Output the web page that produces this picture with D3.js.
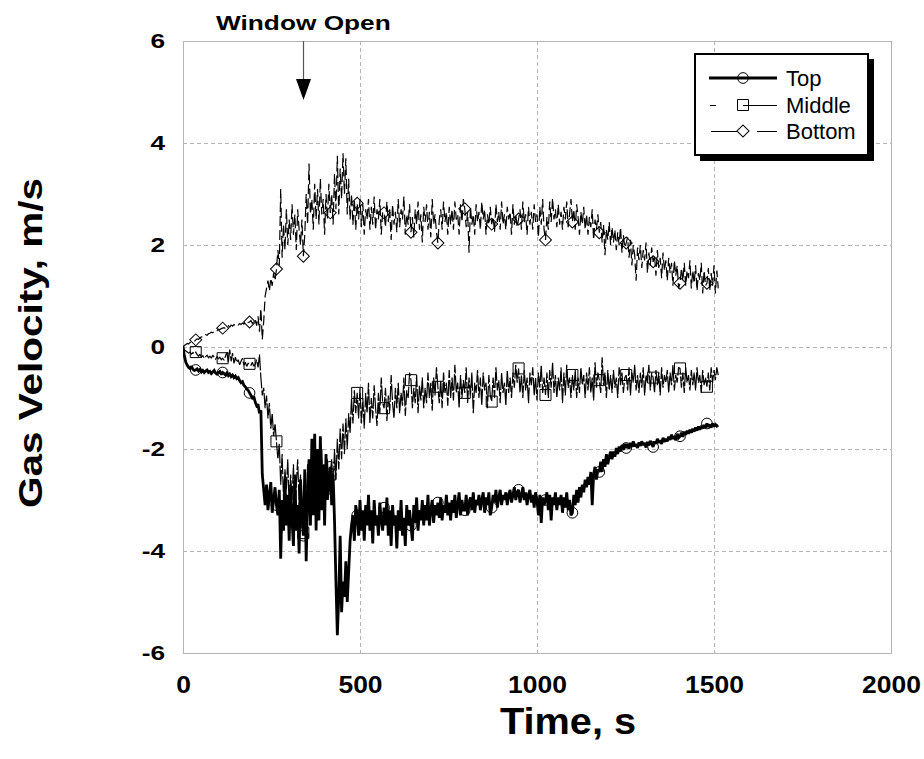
<!DOCTYPE html>
<html>
<head>
<meta charset="utf-8">
<script src="https://cdn.jsdelivr.net/npm/d3@7/dist/d3.min.js"></script>
<style>
  body { margin: 0; background: #fff; }
  text { font-family: "Liberation Sans", Arial, sans-serif; }
</style>
</head>
<body>
<svg id="chart" width="924" height="759"></svg>
<script>
// Gas velocity at three heights in the doorway, sampled every 4 s.
const sampleStep = 4;

// Top probe (m/s)
const topVelocity = [
  0, -0.18, -0.3, -0.36, -0.4, -0.42, -0.38, -0.44, -0.46, -0.45, -0.43, -0.47, -0.44, -0.49, -0.46, -0.5, -0.47, -0.45, -0.5,
  -0.48, -0.52, -0.49, -0.46, -0.51, -0.53, -0.5, -0.48, -0.54, -0.5, -0.52, -0.55, -0.51, -0.56, -0.53, -0.58, -0.55, -0.6, -0.57,
  -0.62, -0.6, -0.66, -0.7, -0.68, -0.75, -0.78, -0.82, -0.85, -0.9, -0.95, -1.0, -0.97, -1.08, -1.15, -1.12, -1.3, -1.24, -2.5,
  -2.8, -3.1, -2.7, -3.2, -2.9, -2.65, -3.25, -3.0, -2.75, -3.1, -3.3, -2.8, -4.15, -3.0, -3.6, -2.6, -3.5, -2.9, -3.8,
  -2.7, -3.4, -3.9, -2.5, -3.6, -3.1, -4.05, -2.6, -3.3, -3.7, -2.4, -4.2, -3.0, -2.2, -3.5, -1.8, -3.3, -1.7, -3.6,
  -2.0, -3.4, -1.75, -3.2, -2.3, -3.5, -2.1, -3.0, -2.6, -2.35, -3.1, -2.5, -3.4, -4.6, -5.65, -4.9, -3.7, -5.2, -4.6,
  -4.9, -4.2, -5.0, -4.4, -3.8, -3.5, -3.3, -3.8, -3.1, -3.3, -3.7, -3.0, -3.6, -3.2, -3.8, -3.1, -3.5, -2.9, -3.6,
  -3.2, -3.85, -3.0, -3.5, -3.3, -3.7, -3.05, -3.4, -3.6, -3.15, -3.5, -2.95, -3.7, -3.2, -3.9, -3.1, -3.5, -3.3, -3.95,
  -3.2, -3.6, -3.0, -3.7, -3.35, -3.9, -3.1, -3.5, -3.2, -3.5, -3.8, -3.1, -3.45, -2.95, -3.6, -3.2, -3.4, -3.0, -3.5,
  -3.1, -3.4, -2.9, -3.5, -3.2, -3.0, -3.45, -3.1, -3.3, -3.05, -3.35, -2.95, -3.4, -3.1, -3.25, -2.9, -3.3, -3.05, -3.4,
  -3.0, -3.25, -2.9, -3.35, -3.1, -2.85, -3.3, -3.0, -3.2, -3.2, -2.9, -3.3, -3.05, -2.95, -3.2, -2.85, -3.25, -3.0, -3.1,
  -2.9, -3.2, -3.0, -2.85, -3.25, -2.95, -3.1, -2.85, -3.3, -3.15, -2.9, -3.05, -2.8, -3.15, -2.95, -2.8, -3.1, -2.9, -3.0,
  -2.85, -3.1, -2.9, -2.8, -3.05, -2.9, -2.75, -3.0, -2.85, -2.8, -3.05, -2.9, -2.75, -3.0, -2.85, -3.1, -2.9, -2.8, -3.05,
  -2.9, -3.15, -2.85, -3.0, -3.3, -2.9, -3.45, -2.95, -3.1, -3.0, -2.85, -3.2, -2.9, -3.4, -2.95, -3.1, -2.85, -3.2, -2.95,
  -3.1, -2.9, -3.25, -2.95, -3.15, -2.85, -3.2, -3.0, -3.3, -3.25, -2.9, -3.1, -2.8, -3.05, -2.75, -2.95, -2.7, -2.85, -2.6,
  -2.75, -2.55, -2.7, -2.45, -3.1, -2.5, -2.35, -2.6, -2.4, -2.45, -2.25, -2.45, -2.2, -2.35, -2.1, -2.3, -2.15, -2.05, -2.2,
  -2.05, -2.15, -1.98, -2.1, -1.95, -2.05, -1.92, -2.02, -1.9, -1.98, -1.9, -2.0, -1.88, -1.96, -1.85, -1.95, -1.9, -1.98, -1.87,
  -1.94, -1.85, -1.92, -1.88, -1.97, -1.86, -1.93, -1.84, -1.9, -1.96, -1.85, -1.9, -1.8, -1.88, -1.83, -1.9, -1.78, -1.86, -1.8,
  -1.85, -1.76, -1.82, -1.72, -1.8, -1.75, -1.83, -1.7, -1.78, -1.75, -1.68, -1.76, -1.66, -1.72, -1.64, -1.7, -1.62, -1.68, -1.6,
  -1.66, -1.58, -1.64, -1.56, -1.62, -1.55, -1.6, -1.53, -1.58, -1.5, -1.57, -1.52, -1.58, -1.5, -1.56, -1.52, -1.55, -1.53
];

// Middle probe (m/s)
const middleVelocity = [
  0, -0.05, -0.08, -0.1, -0.12, -0.1, -0.14, -0.11, -0.13, -0.1, -0.15, -0.18, -0.14, -0.2, -0.17, -0.22, -0.19, -0.16, -0.21,
  -0.18, -0.22, -0.16, -0.2, -0.24, -0.19, -0.23, -0.2, -0.25, -0.22, -0.26, -0.18, -0.1, -0.3, -0.05, -0.28, -0.12, -0.32, -0.2,
  -0.3, -0.25, -0.35, -0.28, -0.22, -0.36, -0.3, -0.38, -0.32, -0.33, -0.36, -0.3, -0.38, -0.34, -0.25, -0.4, -0.15, -0.6, -0.95,
  -0.8, -1.2, -0.95, -1.4, -1.1, -1.6, -1.3, -1.75, -1.5, -1.85, -2.2, -1.9, -2.7, -2.1, -3.0, -2.4, -2.8, -2.2, -3.2,
  -2.5, -3.0, -2.3, -3.4, -2.7, -2.2, -3.1, -2.5, -3.5, -3.65, -2.6, -3.2, -2.3, -3.0, -2.5, -3.3, -2.1, -2.9, -2.4,
  -3.1, -2.3, -2.8, -2.0, -3.0, -2.4, -2.7, -2.2, -2.9, -2.5, -2.2, -2.8, -2.0, -2.6, -1.8, -2.4, -1.6, -2.2, -1.5,
  -2.1, -1.4, -2.0, -1.3, -1.7, -1.0, -1.5, -0.85, -1.3, -0.9, -1.4, -0.8, -1.5, -1.0, -1.6, -0.9, -1.3, -0.7, -1.5,
  -1.0, -1.4, -0.75, -1.2, -1.55, -0.9, -1.3, -0.6, -1.1, -1.2, -0.8, -1.45, -0.95, -1.25, -0.55, -1.1, -1.4, -0.8, -1.2,
  -0.7, -1.3, -0.9, -1.15, -0.6, -1.35, -0.85, -1.0, -0.5, -0.65, -1.2, -0.8, -1.1, -0.55, -1.3, -0.75, -1.05, -0.6, -1.2,
  -0.8, -1.1, -0.5, -1.0, -0.7, -1.25, -0.6, -0.95, -0.4, -0.78, -1.1, -0.65, -1.2, -0.5, -0.9, -0.7, -1.15, -0.45, -1.0,
  -0.6, -1.05, -0.35, -0.9, -0.7, -1.2, -0.55, -1.0, -0.65, -0.9, -0.4, -1.1, -0.6, -0.95, -0.5, -1.3, -0.7, -0.9, -0.45,
  -1.0, -0.6, -1.15, -0.5, -0.85, -0.7, -1.2, -0.55, -0.95, -1.07, -0.6, -1.0, -0.4, -0.85, -0.65, -1.1, -0.5, -0.9, -0.7,
  -1.15, -0.45, -0.9, -0.6, -1.0, -0.5, -0.8, -0.35, -0.7, -0.42, -0.9, -0.55, -1.0, -0.45, -0.85, -0.6, -1.1, -0.5, -0.75,
  -0.4, -0.95, -0.6, -1.05, -0.5, -0.8, -0.35, -0.9, -0.6, -0.94, -0.5, -1.0, -0.45, -0.8, -0.3, -0.9, -0.55, -1.0, -0.6,
  -0.85, -0.4, -1.1, -0.5, -0.95, -0.35, -0.8, -0.6, -1.0, -0.55, -0.85, -0.45, -1.0, -0.6, -0.9, -0.4, -0.75, -0.55, -1.0,
  -0.5, -0.85, -0.4, -0.9, -0.6, -1.05, -0.3, -0.8, -0.5, -0.65, -0.9, -0.2, -0.75, -0.5, -1.0, -0.45, -0.85, -0.55, -0.9,
  -0.45, -0.8, -0.6, -1.0, -0.4, -0.75, -0.5, -0.9, -0.6, -0.55, -0.85, -0.4, -0.95, -0.5, -0.7, -0.35, -0.85, -0.55, -0.9,
  -0.5, -0.8, -0.4, -0.95, -0.55, -0.7, -0.35, -0.85, -0.5, -0.6, -0.9, -0.45, -0.75, -0.5, -0.95, -0.4, -0.8, -0.55, -0.7,
  -0.45, -0.9, -0.5, -0.75, -0.35, -0.85, -0.55, -0.7, -0.4, -0.42, -0.8, -0.5, -0.9, -0.4, -0.7, -0.55, -0.85, -0.45, -0.75,
  -0.5, -0.85, -0.4, -0.7, -0.55, -0.9, -0.45, -0.75, -0.6, -0.78, -0.5, -0.85, -0.4, -0.7, -0.45, -0.65, -0.4, -0.55
];

// Bottom probe (m/s)
const bottomVelocity = [
  0, 0.03, 0.05, 0.07, 0.06, 0.09, 0.1, 0.12, 0.11, 0.14, 0.16, 0.15, 0.18, 0.2, 0.19, 0.22, 0.24, 0.23, 0.26,
  0.27, 0.29, 0.28, 0.31, 0.33, 0.32, 0.35, 0.34, 0.36, 0.37, 0.38, 0.36, 0.4, 0.42, 0.39, 0.43, 0.41, 0.44, 0.42,
  0.45, 0.43, 0.46, 0.44, 0.47, 0.45, 0.5, 0.47, 0.48, 0.49, 0.52, 0.46, 0.5, 0.55, 0.42, 0.6, 0.3, 0.75, 0.15,
  0.5, 1.0, 1.15, 1.3, 1.1, 1.35, 1.2, 1.45, 1.3, 1.53, 1.9, 1.6, 3.1, 1.75, 2.4, 1.9, 2.7, 2.0, 2.5,
  2.1, 2.8, 2.2, 2.6, 1.9, 2.7, 2.3, 2.0, 2.5, 1.78, 2.2, 3.0, 2.4, 3.6, 2.6, 2.9, 2.3, 3.2, 2.5,
  3.1, 2.4, 3.3, 2.6, 2.9, 2.2, 3.0, 2.5, 3.2, 2.63, 3.0, 2.4, 3.4, 2.7, 3.75, 2.6, 3.5, 2.9, 3.8,
  3.0, 3.7, 2.6, 3.3, 2.5, 3.0, 2.4, 2.9, 2.3, 2.82, 2.5, 2.9, 2.35, 2.8, 2.2, 2.7, 2.5, 2.9, 2.3,
  2.75, 2.4, 2.95, 2.3, 2.7, 2.5, 2.9, 2.2, 2.65, 2.63, 2.35, 2.85, 2.45, 2.7, 2.1, 2.8, 2.4, 2.65, 2.25,
  2.9, 2.35, 2.7, 2.5, 2.95, 2.2, 2.6, 2.4, 2.8, 2.25, 2.55, 2.15, 2.7, 2.4, 2.85, 2.3, 2.6, 2.05, 2.75,
  2.45, 2.8, 2.3, 2.65, 2.15, 2.9, 2.4, 2.6, 2.25, 2.04, 2.5, 2.7, 2.3, 2.85, 2.45, 2.65, 2.2, 2.75, 2.4,
  2.7, 2.3, 2.85, 2.5, 2.6, 2.2, 2.8, 2.45, 2.9, 2.71, 2.35, 2.65, 1.85, 2.75, 2.4, 2.6, 2.2, 2.8, 2.45,
  2.65, 2.3, 2.85, 2.5, 2.7, 2.2, 2.6, 2.4, 2.75, 2.41, 2.55, 2.25, 2.8, 2.45, 2.65, 2.3, 2.85, 2.4, 2.6,
  2.3, 2.75, 2.5, 2.65, 2.2, 2.8, 2.4, 2.6, 2.35, 2.51, 2.7, 2.3, 2.85, 2.45, 2.6, 2.2, 2.75, 2.4, 2.65,
  2.3, 2.8, 2.45, 2.6, 2.15, 2.75, 2.4, 2.9, 2.3, 2.1, 2.55, 2.3, 2.85, 2.45, 2.92, 2.5, 2.7, 2.35, 2.8,
  2.4, 2.65, 2.3, 2.75, 2.5, 2.85, 2.35, 2.6, 2.9, 2.45, 2.7, 2.3, 2.8, 2.55, 2.2, 2.65, 2.4, 2.75, 2.3,
  2.6, 2.2, 2.55, 2.35, 2.7, 2.1, 2.5, 2.3, 2.6, 2.24, 2.45, 2.05, 2.4, 1.8, 2.3, 2.1, 2.45, 2.0, 2.35,
  2.05, 2.3, 1.9, 2.25, 2.0, 2.35, 1.85, 2.2, 1.95, 2.04, 2.15, 1.75, 2.1, 1.6, 2.0, 1.8, 1.3, 1.95, 1.7,
  2.0, 1.55, 1.9, 1.7, 2.05, 1.45, 1.85, 1.6, 1.95, 1.67, 1.8, 1.4, 1.9, 1.55, 1.75, 1.35, 1.85, 1.5, 1.7,
  1.3, 1.75, 1.45, 1.65, 1.2, 1.7, 1.4, 1.6, 1.15, 1.25, 1.55, 1.3, 1.65, 1.2, 1.5, 1.35, 1.7, 1.15, 1.5,
  1.25, 1.6, 1.1, 1.45, 1.3, 1.65, 1.05, 1.5, 1.2, 1.25, 1.55, 1.1, 1.45, 1.2, 1.6, 1.05, 1.5, 1.15
];

const seriesNames = ["Top", "Middle", "Bottom"];
const xTickValues = [0, 500, 1000, 1500, 2000];
const yTickValues = [-6, -4, -2, 0, 2, 4, 6];
const windowOpenTime = 340;          // s, annotated event
const markerEvery = 19;              // one marker every 76 s
const markerOffset = 9;

const svg = d3.select("#chart");
const plot = { left: 183, right: 891, top: 41, bottom: 653 };
const stretch = 1.25;                // wide bold lettering of the tick labels

const x = d3.scaleLinear().domain([0, 2000]).range([plot.left, plot.right]);
const y = d3.scaleLinear().domain([-6, 6]).range([plot.bottom, plot.top]);

// grid
const grid = svg.append("g").attr("stroke", "#b4b4b4").attr("stroke-width", 1)
  .attr("stroke-dasharray", "4,3").attr("fill", "none");
grid.selectAll("line.h").data(yTickValues.slice(1, -1)).join("line")
  .attr("x1", plot.left).attr("x2", plot.right)
  .attr("y1", d => Math.round(y(d)) + 0.5).attr("y2", d => Math.round(y(d)) + 0.5);
grid.selectAll("line.v").data(xTickValues.slice(1, -1)).join("line")
  .attr("y1", plot.top).attr("y2", plot.bottom)
  .attr("x1", d => Math.round(x(d)) + 0.5).attr("x2", d => Math.round(x(d)) + 0.5);
svg.append("rect")
  .attr("x", plot.left + 0.5).attr("y", plot.top + 0.5)
  .attr("width", plot.right - plot.left).attr("height", plot.bottom - plot.top)
  .attr("fill", "none").attr("stroke", "#b4b4b4");

// axes (labels only)
const plainNumber = d => String(d);
function styleTicks(g, size) {
  g.select(".domain").remove();
  g.selectAll(".tick line").remove();
  g.selectAll(".tick text")
    .attr("font-size", size).attr("font-weight", "bold").attr("fill", "#000")
    .attr("font-family", "'Liberation Sans', Arial, sans-serif");
}
const yAxis = svg.append("g").attr("transform", `translate(${plot.left},0)`)
  .call(d3.axisLeft(y).tickValues(yTickValues).tickSize(0).tickPadding(18).tickFormat(plainNumber));
styleTicks(yAxis, 21);
yAxis.selectAll(".tick text")
  .attr("x", -18 / stretch).attr("transform", `scale(${stretch},1)`);

const xAxis = svg.append("g").attr("transform", `translate(0,${plot.bottom})`)
  .call(d3.axisBottom(x).tickValues(xTickValues).tickSize(0).tickPadding(24).tickFormat(plainNumber));
styleTicks(xAxis, 23);
xAxis.selectAll(".tick text").attr("transform", `scale(${stretch * 0.92},1)`);

// axis titles
svg.append("text")
  .attr("x", 568).attr("y", 734)
  .attr("text-anchor", "middle").attr("font-size", 36).attr("font-weight", "bold")
  .attr("textLength", 136).attr("lengthAdjust", "spacingAndGlyphs")
  .text("Time, s");
svg.append("text")
  .attr("transform", "translate(42,343) rotate(-90)")
  .attr("text-anchor", "middle").attr("font-size", 34).attr("font-weight", "bold")
  .attr("textLength", 330).attr("lengthAdjust", "spacingAndGlyphs")
  .text("Gas Velocity, m/s");

// series
const times = d3.range(topVelocity.length).map(i => i * sampleStep);
const series = [
  { name: seriesNames[0], values: topVelocity, width: 2.8, dash: null, marker: "circle" },
  { name: seriesNames[1], values: middleVelocity, width: 1.2, dash: "16,2", marker: "square" },
  { name: seriesNames[2], values: bottomVelocity, width: 1.2, dash: "10,4", marker: "diamond" }
];

const line = d3.line().x((d, i) => x(times[i])).y(d => y(d));
svg.append("clipPath").attr("id", "plotClip").append("rect")
  .attr("x", plot.left).attr("y", plot.top)
  .attr("width", plot.right - plot.left).attr("height", plot.bottom - plot.top);

function markerPath(kind) {
  if (kind === "circle") return d3.symbol(d3.symbolCircle, 90)();
  if (kind === "square") return d3.symbol(d3.symbolSquare, 121)();
  return d3.symbol(d3.symbolSquare, 72)();
}

const marks = svg.append("g").attr("clip-path", "url(#plotClip)");
series.forEach(s => {
  marks.append("path")
    .attr("d", line(s.values))
    .attr("fill", "none").attr("stroke", "#000")
    .attr("stroke-width", s.width)
    .attr("stroke-linejoin", "miter").attr("stroke-miterlimit", 2)
    .attr("stroke-dasharray", s.dash);
  const pts = s.values.map((v, i) => ({ t: times[i], v, i }))
    .filter(p => p.i % markerEvery === markerOffset);
  marks.selectAll(null).data(pts).join("path")
    .attr("d", markerPath(s.marker))
    .attr("transform", p => `translate(${x(p.t)},${y(p.v)})` + (s.marker === "diamond" ? " rotate(45)" : ""))
    .attr("fill", "none").attr("stroke", "#000").attr("stroke-width", 1);
});

// annotation arrow
const ax = Math.round(x(windowOpenTime)) + 0.5;
svg.append("line").attr("x1", ax).attr("x2", ax).attr("y1", plot.top).attr("y2", 82)
  .attr("stroke", "#555").attr("stroke-width", 1.2);
svg.append("path")
  .attr("d", `M${ax - 7.5},79 L${ax + 7.5},79 L${ax},100 Z`).attr("fill", "#000");
svg.append("text")
  .attr("transform", `translate(216,30) scale(${stretch},1)`)
  .attr("font-size", 21).attr("font-weight", "bold")
  .text("Window Open");

// legend
const lg = svg.append("g");
lg.append("rect").attr("x", 700).attr("y", 59).attr("width", 174).attr("height", 102).attr("fill", "#000");
lg.append("rect").attr("x", 695).attr("y", 54).attr("width", 173).attr("height", 101)
  .attr("fill", "#fff").attr("stroke", "#000").attr("stroke-width", 2);
const legendRows = [
  { s: series[0], y: 78 },
  { s: series[1], y: 105 },
  { s: series[2], y: 131 }
];
legendRows.forEach(r => {
  const seg = lg.append("g");
  if (r.s.marker === "circle") {
    seg.append("line").attr("x1", 709).attr("x2", 777).attr("y1", r.y).attr("y2", r.y)
      .attr("stroke", "#000").attr("stroke-width", 3);
  } else if (r.s.marker === "square") {
    seg.append("line").attr("x1", 710).attr("x2", 716).attr("y1", r.y + 0.5).attr("y2", r.y + 0.5).attr("stroke", "#000");
    seg.append("line").attr("x1", 743).attr("x2", 777).attr("y1", r.y + 0.5).attr("y2", r.y + 0.5).attr("stroke", "#000");
  } else {
    seg.append("line").attr("x1", 711).attr("x2", 737).attr("y1", r.y + 0.5).attr("y2", r.y + 0.5).attr("stroke", "#000");
    seg.append("line").attr("x1", 757).attr("x2", 777).attr("y1", r.y + 0.5).attr("y2", r.y + 0.5).attr("stroke", "#000");
  }
  seg.append("path").attr("d", markerPath(r.s.marker))
    .attr("transform", `translate(743,${r.y})` + (r.s.marker === "diamond" ? " rotate(45)" : ""))
    .attr("fill", r.s.marker === "diamond" ? "#fff" : "none").attr("stroke", "#000");
  lg.append("text").attr("x", 786).attr("y", r.y + 8)
    .attr("font-size", 22).text(r.s.name);
});
</script>
</body>
</html>
